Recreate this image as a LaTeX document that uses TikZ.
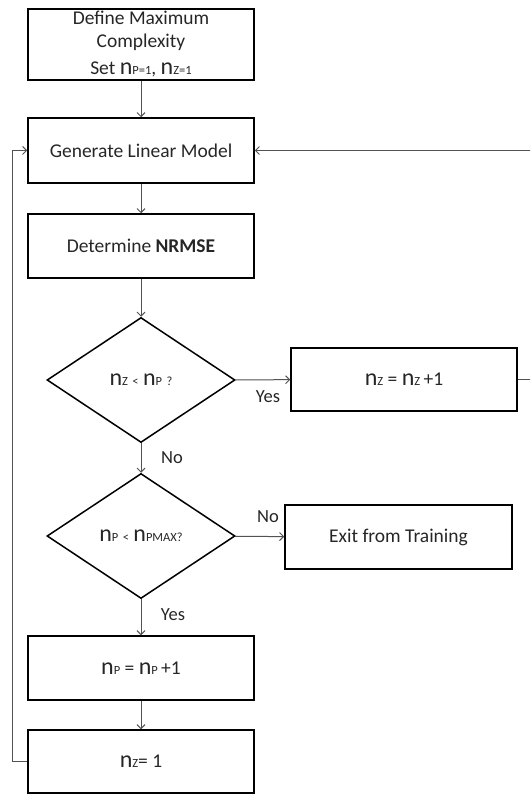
\documentclass[tikz,border=0pt]{standalone}
\usepackage{fontspec}
\setmainfont{Carlito}
\usetikzlibrary{arrows.meta,shapes.geometric}
\newcommand\Nv[1]{{\fontsize{24}{24}\selectfont n}{\fontsize{12.5}{12.5}\selectfont #1}}
\newcommand\Sm[1]{{\fontsize{12.5}{12.5}\selectfont #1}}
\tikzset{
  stepbox/.style={draw=black, line width=1.5pt, minimum width=226pt, inner sep=0pt, font=\fontsize{19.5}{23}\selectfont, text=black!85, align=center},
  decide/.style={draw=black, line width=1.5pt, diamond, aspect=1.5, minimum width=188pt, minimum height=125pt, inner sep=0pt, text=black!85, font=\fontsize{19.5}{23}\selectfont},
  conn/.style={draw=black!68, line width=1pt, -{Straight Barb[length=4pt,width=8pt]}},
  lbl/.style={font=\fontsize{18.5}{20}\selectfont, text=black!85, inner sep=0pt}
}
\begin{document}
\begin{tikzpicture}[x=1pt,y=-1pt]
\useasboundingbox (0,0) rectangle (530,794);
\clip (0,0) rectangle (530,794);
\node[stepbox, minimum height=71pt] (b1) at (141,44.5) {Define Maximum\\Complexity\\[4pt]Set \Nv{P=1}, \Nv{Z=1}};
\node[stepbox, minimum height=65pt] (gen) at (141,150.5) {Generate Linear Model};
\node[stepbox, minimum height=64pt] (det) at (141,246) {Determine \textbf{NRMSE}};
\node[decide] (d1) at (141,380) {\Nv{Z} \Sm{<} \Nv{P} \Sm{?}};
\node[stepbox, minimum height=63pt] (incz) at (404,379.5) {\Nv{Z} = \Nv{Z}\,+1};
\node[decide] (d2) at (141,536) {\Nv{P} \Sm{<} \Nv{PMAX?}};
\node[stepbox, minimum width=227pt, minimum height=64pt] (exit) at (398.5,537) {Exit from Training};
\node[stepbox, minimum height=64pt] (incp) at (141,668) {\Nv{P} = \Nv{P}\,+1};
\node[stepbox, minimum height=63pt] (zres) at (141,761.5) {\Nv{Z}= 1};
\coordinate (lx) at (12,0);
\coordinate (rx) at (531,0);
\draw[conn] (b1) -- (gen);
\draw[conn] (gen) -- (det);
\draw[conn] (det) -- (d1);
\draw[conn] (d1) -- (incz);
\draw[conn] (d1) -- (d2);
\draw[conn] (d2) -- (exit);
\draw[conn] (d2) -- (incp);
\draw[conn] (incp) -- (zres);
\draw[conn] (zres.west) -- (zres.west -| lx) -- (gen.west -| lx) -- (gen.west);
\draw[conn] (incz.east) -- (incz.east -| rx) -- (gen.east -| rx) -- (gen.east);
\node[lbl] (yes1) at (268,397) {Yes};
\node[lbl] (no1) at (172,458) {No};
\node[lbl] (no2) at (268,517) {No};
\node[lbl] (yes2) at (173,615) {Yes};
\end{tikzpicture}
\end{document}
